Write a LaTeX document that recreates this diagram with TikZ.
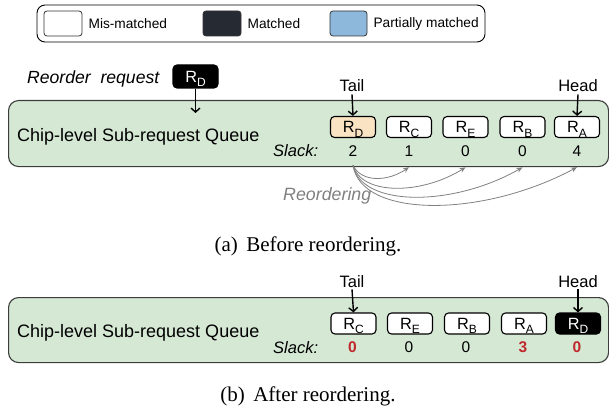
\documentclass[tikz,border=0pt]{standalone}
\usepackage{fontspec}
\setmainfont{Liberation Serif}
\setsansfont{Liberation Sans}
\usetikzlibrary{arrows.meta,positioning,calc}
\definecolor{qgreen}{HTML}{D5E8D4}
\definecolor{qedge}{HTML}{3C3C3C}
\definecolor{mdark}{HTML}{262B33}
\definecolor{pblue}{HTML}{8DB8DC}
\definecolor{porange}{HTML}{FAE3C2}
\definecolor{sred}{HTML}{C0282D}
\definecolor{rgray}{HTML}{808080}
\newcommand{\fs}[1]{\fontsize{#1}{#1}\selectfont}
\newcommand{\reqlab}[1]{R\smash{\raisebox{-4.5pt}{\fs{12}#1}}}
\tikzset{
  queue/.style={rectangle,draw=qedge,fill=qgreen,rounded corners=10pt,
                line width=1.1pt,inner sep=0pt,anchor=north west},
  req/.style={rectangle,draw=black,fill=white,rounded corners=4pt,
              line width=1.1pt,minimum width=45pt,minimum height=21pt,
              inner sep=0pt,font=\sffamily\fs{16.3}},
  matched/.style={req,fill=black,text=white},
  partial/.style={req,fill=porange},
  swatch/.style={rectangle,draw=black!80,rounded corners=3pt,line width=0.8pt,
                 minimum width=38pt,minimum height=25pt,inner sep=0pt},
  lgtext/.style={anchor=west,inner sep=0pt,font=\sffamily\fs{13.7}},
  ptr/.style={-{Straight Barb[length=4pt,width=9pt]},line width=1.4pt},
  reo/.style={-{Stealth[length=6pt,width=5pt]},rgray,line width=0.8pt},
  slk/.style={anchor=base,inner sep=0pt,font=\sffamily\fs{15.5}},
  hot/.style={slk,text=sred,font=\sffamily\bfseries\fs{15.5}},
  tag/.style={anchor=base,inner sep=0pt,font=\sffamily\fs{16.5}},
  qlab/.style={anchor=base west,inner sep=0pt,font=\sffamily\fs{18}},
  slab/.style={anchor=base west,inner sep=0pt,font=\sffamily\itshape\fs{16.5}},
  captxt/.style={anchor=base,inner sep=0pt,font=\rmfamily\fs{21}},
}
\begin{document}
\begin{tikzpicture}[x=1pt,y=-1pt]
  \useasboundingbox (0,0) rectangle (609,406);
  %% legend
  \node[draw,line width=0.9pt,rounded corners=8pt,minimum width=448pt,
        minimum height=37pt,inner sep=0pt] (legend) at (261,23.5) {};
  \node[swatch,fill=white] (mis) at (63,23.5) {};
  \node[lgtext,right=6pt of mis] (mislab) {Mis-matched};
  \node[swatch,fill=mdark] (mat) at (222,23.5) {};
  \node[lgtext,right=6pt of mat] (matlab) {Matched};
  \node[swatch,fill=pblue,minimum width=37pt] (par) at (348.5,23.5) {};
  \node[lgtext,right=6pt of par] (parlab) {Partially matched};

  %% (a) before reordering
  \node[anchor=base west,inner sep=0pt,font=\sffamily\itshape\fs{17.6}] (reqtxt)
    at (27,84) {Reorder\ \ request};
  \node[matched,minimum height=23pt] (newreq) at (195.5,76.5) {\reqlab{D}};
  \node[queue,minimum width=600pt,minimum height=66pt] (qa) at (8,100) {};
  \coordinate (ins) at (195.5,113);
  \draw[ptr] (newreq.south) -- (ins);
  \node[qlab] (qalab) at (17,141.5) {Chip-level Sub-request Queue};
  \node[slab] (slka) at (273,157) {Slack:};
  \node[partial] (a1) at (353,127) {\reqlab{D}};
  \node[slk] (sa1) at (353,156) {2};
  \foreach \n/\x/\s/\v in {2/409/C/1,3/465.5/E/0,4/522.5/B/0,5/577/A/4}{
    \node[req] (a\n) at (\x,127) {\reqlab{\s}};
    \node[slk] (sa\n) at (\x,156) {\v};
  }
  \node[tag] (taila) at (352,92) {Tail};
  \node[tag] (heada) at (578,92) {Head};
  \draw[ptr] ([yshift=-2pt]taila.south) -- (a1.north);
  \draw[ptr] ([yshift=-2pt]heada.south) -- (a5.north);
  %% reordering arcs
  \coordinate (src) at ($(sa1.south)+(0,9)$);
  \foreach \n/\dy/\dx in {2/17/-22,3/30/-45,4/42/-70,5/53/-95}{
    \coordinate (e\n) at ($(sa\n.south)+(0,11)$);
    \draw[reo] (src) .. controls +(8,\dy) and +(\dx,\dy-2) .. (e\n);
  }
  \node[anchor=base west,inner sep=0pt,text=rgray,
        font=\sffamily\itshape\fs{17.8}] (reolab) at (283,200) {Reordering};
  \node[captxt] (capa) at (308,251) {(a)\hspace{0.4em}Before reordering.};

  %% (b) after reordering
  \node[queue,minimum width=600pt,minimum height=65pt] (qb) at (8,297) {};
  \node[qlab] (qblab) at (17,337.5) {Chip-level Sub-request Queue};
  \node[slab] (slkb) at (273,353) {Slack:};
  \foreach \n/\x/\s in {1/353.5/C,2/410/E,3/467/B,4/524/A}{
    \node[req] (b\n) at (\x,323.5) {\reqlab{\s}};
  }
  \node[matched] (b5) at (578,323.5) {\reqlab{D}};
  \node[hot] (sb1) at (352.5,352) {0};
  \node[slk] (sb2) at (409,352) {0};
  \node[slk] (sb3) at (466,352) {0};
  \node[hot] (sb4) at (523,352) {3};
  \node[hot] (sb5) at (577,352) {0};
  \node[tag] (tailb) at (352,287) {Tail};
  \node[tag] (headb) at (578,287) {Head};
  \draw[ptr] ([yshift=-2pt]tailb.south) -- (b1.north);
  \draw[ptr] ([yshift=-2pt]headb.south) -- (b5.north);
  \node[captxt] (capb) at (308,401) {(b)\hspace{0.4em}After reordering.};
\end{tikzpicture}
\end{document}
